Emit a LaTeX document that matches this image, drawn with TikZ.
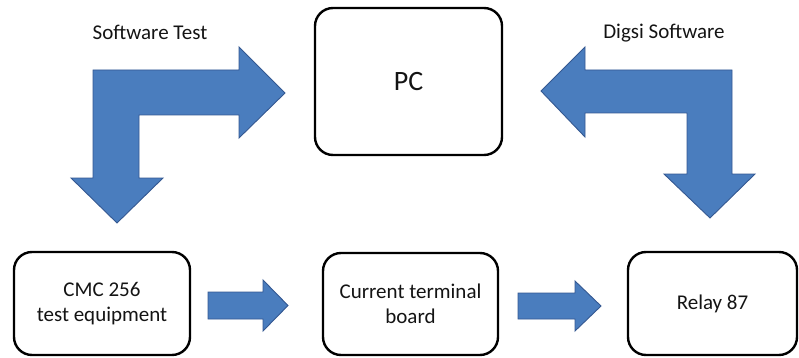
\documentclass[tikz,border=0pt]{standalone}
\usepackage{fontspec}
\setmainfont{Carlito}
\definecolor{arrowblue}{RGB}{74,125,190}
\definecolor{arrowedge}{RGB}{52,88,145}
\definecolor{txt}{RGB}{20,20,20}
\begin{document}
\begin{tikzpicture}[x=1pt,y=-1pt,
  box/.style={draw=black, line width=2.4pt, rounded corners=18pt, fill=white,
    align=center, text=txt, inner sep=0pt,
    font=\fontsize{21}{25}\selectfont},
  blk/.style={fill=arrowblue, draw=arrowedge, line width=0.9pt, line join=miter},
  lbl/.style={font=\fontsize{21}{24}\selectfont, text=txt, inner sep=0pt}]
\useasboundingbox (0,0) rectangle (799,358);
% boxes
\node[box, minimum width=187pt, minimum height=147pt,
  font=\fontsize{28}{31}\selectfont] (pc) at (408.5,81.5) {PC};
\node[box, minimum width=176pt, minimum height=103pt] (cmc) at (102,303.5)
  {CMC 256\\test equipment};
\node[box, minimum width=175pt, minimum height=102pt] (ctb) at (410.5,304)
  {Current terminal\\board};
\node[box, minimum width=169pt, minimum height=103pt] (relay) at (712.5,303.5)
  {Relay 87};
% labels
\node[lbl] (swtest) at (150,32) {Software Test};
\node[lbl] (digsi) at (664,33) {Digsi Software};
% left bent arrow (to PC and down to CMC)
\draw[blk] (117,223) -- (163,178) -- (139,178) -- (139,115) -- (239,115)
  -- (239,138) -- (285,93) -- (239,47) -- (239,70) -- (93,70) -- (93,178)
  -- (71,178) -- cycle;
% right bent arrow (to PC and down to relay)
\draw[blk] (541,91) -- (585,47) -- (585,70) -- (732,70) -- (732,174)
  -- (755,174) -- (710,218) -- (664,174) -- (687,174) -- (687,113)
  -- (585,113) -- (585,137) -- cycle;
% small arrows
\draw[blk] (208,292) -- (263,292) -- (263,280) -- (288,305.5) -- (263,331)
  -- (263,319) -- (208,319) -- cycle;
\draw[blk] (518,293) -- (575,293) -- (575,281) -- (601,306) -- (575,331)
  -- (575,319) -- (518,319) -- cycle;
\end{tikzpicture}
\end{document}
